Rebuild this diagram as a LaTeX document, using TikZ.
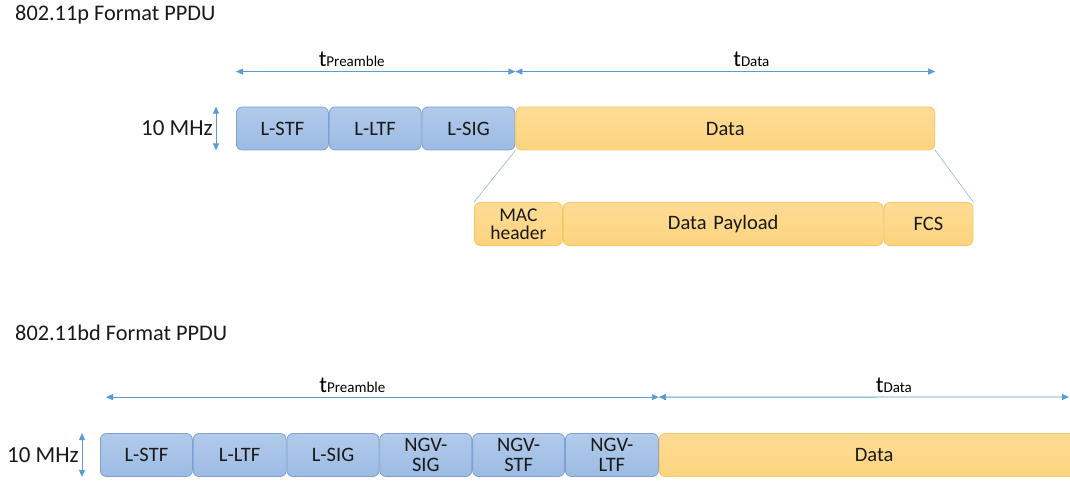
\documentclass[tikz,border=0pt]{standalone}
\usepackage{fontspec}
\setmainfont{Carlito}
\usetikzlibrary{positioning,arrows.meta}

\definecolor{fieldblue}{HTML}{9CBBE3}
\definecolor{fieldbluetop}{HTML}{B2CAEA}
\definecolor{fieldblueline}{HTML}{7EA2D3}
\definecolor{fieldorange}{HTML}{FDD47E}
\definecolor{fieldorangetop}{HTML}{FEDC96}
\definecolor{fieldorangeline}{HTML}{F5C666}
\definecolor{dimcolor}{HTML}{5B9BD5}
\definecolor{zoomline}{HTML}{9DBEE0}

\tikzset{
  field/.style={rounded corners=6pt, minimum height=43pt, inner sep=0pt,
    text width=#1, minimum width=#1, align=center, anchor=west,
    font=\fontsize{20.5}{20.5}\selectfont, text=black!90},
  preamblefield/.style={field=#1, draw=fieldblueline, line width=0.8pt,
    top color=fieldbluetop, bottom color=fieldblue},
  datafield/.style={field=#1, draw=fieldorangeline, line width=0.8pt,
    top color=fieldorangetop, bottom color=fieldorange},
  dimarrow/.style={draw=dimcolor, line width=0.9pt,
    {Triangle[length=7pt,width=6pt]}-{Triangle[length=7pt,width=6pt]}},
  zoomlink/.style={draw=zoomline, line width=0.7pt},
  caption/.style={font=\fontsize{22.3}{22.3}\selectfont, text=black!90, inner sep=0pt},
  bwlabel/.style={font=\fontsize{23}{23}\selectfont, text=black!90, inner sep=0pt, anchor=east},
}

\newcommand{\tdur}[1]{{\fontsize{23}{23}\selectfont t}{\fontsize{15}{15}\selectfont #1}}

\begin{document}
\begin{tikzpicture}[x=1pt, y=-1pt]
  \useasboundingbox (0,0) rectangle (1070,481);

  % 802.11p
  \node[caption, anchor=west] (ptitle) at (15,15) {802.11p Format PPDU};

  \node[preamblefield=92pt] (pstf) at (236,128.5) {L-STF};
  \node[preamblefield=92pt, right=0pt of pstf] (pltf) {L-LTF};
  \node[preamblefield=93pt, right=0pt of pltf] (psig) {L-SIG};
  \node[datafield=419pt, right=0pt of psig] (pdata) {Data};

  \node[datafield=88pt, font=\fontsize{19.5}{19.5}\selectfont] (pmac) at (474,224) {MAC\\[-1pt]header};
  \node[datafield=320pt, right=0pt of pmac] (ppay) {Data Payload};
  \node[datafield=89pt, right=0pt of ppay] (pfcs) {FCS};

  \draw[zoomlink] (pdata.south west) -- (pmac.north west);
  \draw[zoomlink] (pdata.south east) -- (pfcs.north east);

  \coordinate (ppre0) at ([yshift=35pt]pstf.north west);
  \coordinate (ppre1) at ([yshift=35pt]psig.north east);
  \coordinate (pdat1) at ([yshift=35pt]pdata.north east);
  \draw[dimarrow] (ppre0) -- node[above=4pt, inner sep=0pt, xshift=-24pt] (ptpre) {\tdur{Preamble}} (ppre1);
  \draw[dimarrow] (ppre1) -- node[above=4pt, inner sep=0pt, xshift=26pt] (ptdat) {\tdur{Data}} (pdat1);

  \coordinate (pbw0) at ([xshift=-20pt]pstf.north west);
  \coordinate (pbw1) at ([xshift=-20pt]pstf.south west);
  \draw[dimarrow] (pbw0) -- (pbw1);
  \node[bwlabel] (pbw) at ([xshift=-3pt]pstf.west -| pbw0) {10 MHz};

  % 802.11bd
  \node[caption, anchor=west] (bdtitle) at (15,333) {802.11bd Format PPDU};

  \node[preamblefield=92pt] (bstf) at (100,455) {L-STF};
  \node[preamblefield=93pt, right=0pt of bstf] (bltf) {L-LTF};
  \node[preamblefield=92pt, right=0pt of bltf] (bsig) {L-SIG};
  \node[preamblefield=92pt, right=0pt of bsig] (bngvsig) {NGV-\\[-1pt]SIG};
  \node[preamblefield=92pt, right=0pt of bngvsig] (bngvstf) {NGV-\\[-1pt]STF};
  \node[preamblefield=93pt, right=0pt of bngvstf] (bngvltf) {NGV-\\[-1pt]LTF};
  \node[datafield=430pt, right=0pt of bngvltf, text width=416pt] (bdata) {Data};

  \coordinate (bpre0) at ([xshift=6pt, yshift=36pt]bstf.north west);
  \coordinate (bpre1) at ([yshift=36pt]bngvltf.north east);
  \coordinate (bdat1) at (1069,397);
  \draw[dimarrow] (bpre0) -- node[above=4pt, inner sep=0pt, xshift=-30pt] (btpre) {\tdur{Preamble}} (bpre1);
  \draw[dimarrow] (bpre1) -- node[above=4pt, inner sep=0pt, xshift=30pt] (btdat) {\tdur{Data}} (bdat1);

  \coordinate (bbw0) at ([xshift=-18pt]bstf.north west);
  \coordinate (bbw1) at ([xshift=-18pt]bstf.south west);
  \draw[dimarrow] (bbw0) -- (bbw1);
  \node[bwlabel] (bbw) at ([xshift=-3pt]bstf.west -| bbw0) {10 MHz};
\end{tikzpicture}
\end{document}
